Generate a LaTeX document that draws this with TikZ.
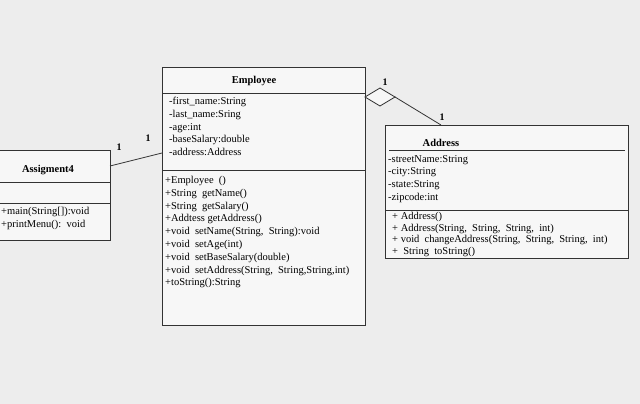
\documentclass[tikz,border=0pt]{standalone}
\usepackage{fontspec}
\setmainfont{Liberation Serif}
\begin{document}
\begin{tikzpicture}[x=1pt,y=-1pt,
  box/.style={draw=black!80,line width=0.8pt},
  txt/.style={font=\fontsize{10.5}{12.8}\selectfont,anchor=north west,inner sep=0pt,align=left},
  ttl/.style={font=\fontsize{10.5}{12}\selectfont\bfseries,inner sep=0pt},
  lbl/.style={font=\fontsize{10}{12}\selectfont\bfseries,inner sep=0pt}]
\fill[black!7] (0,0) rectangle (640,404);
\useasboundingbox (0,0) rectangle (640,404);
% Assignment4
\draw[box,fill=black!3] (-2,150) rectangle (110,240);
\draw[box] (-2,182) -- (110,182) (-2,203) -- (110,203);
\node[ttl] (a4) at (48,170) {Assigment4};
\node[txt] at (1,207) {+main(String[]):void\\+printMenu():\ \ void};
\coordinate (a4r) at (110,166);
% Employee
\draw[box,fill=black!3] (162,67) rectangle (365,325);
\draw[box] (162,93) -- (365,93) (162,170) -- (365,170);
\node[ttl] (emp) at (254,81) {Employee};
\node[txt] at (169,97) {-first\_name:String\\-last\_name:Sring\\-age:int\\-baseSalary:double\\-address:Address};
\node[txt] at (165,176) {+Employee\ \ ()\\+String\ \ getName()\\+String\ \ getSalary()\\+Addtess getAddress()\\+void\ \ setName(String,\ \ String):void\\+void\ \ setAge(int)\\+void\ \ setBaseSalary(double)\\+void\ \ setAddress(String,\ \ String,String,int)\\+toString():String};
\coordinate (empl) at (162,153);
% Address
\draw[box,fill=black!3] (385,125) rectangle (628,258);
\draw[box] (389,150) -- (625,150) (385,210) -- (628,210);
\node[ttl] (addr) at (441,143) {Address};
\node[txt] at (388,155) {-streetName:String\\-city:String\\-state:String\\-zipcode:int};
\node[txt,font=\fontsize{10.5}{11.6}\selectfont] at (392,212) {+ Address()\\+ Address(String,\ \ String,\ \ String,\ \ int)\\+ void\ \ changeAddress(String,\ \ String,\ \ String,\ \ int)\\+\ \ String\ \ toString()};
\coordinate (addrt) at (441,125);
% connectors
\draw[black!80,line width=0.8pt] (a4r) -- (empl);
\node[lbl] at (119,147) {1};
\node[lbl] at (148,138) {1};
\coordinate (d0) at (365,97);
\coordinate (d1) at (380,88);
\coordinate (d2) at (395,97);
\coordinate (d3) at (380,106);
\draw[black!80,line width=0.8pt,fill=black!3] (d0) -- (d1) -- (d2) -- (d3) -- cycle;
\draw[black!80,line width=0.8pt] (d2) -- (addrt);
\node[lbl] at (385,82) {1};
\node[lbl] at (442,117) {1};
\end{tikzpicture}
\end{document}
